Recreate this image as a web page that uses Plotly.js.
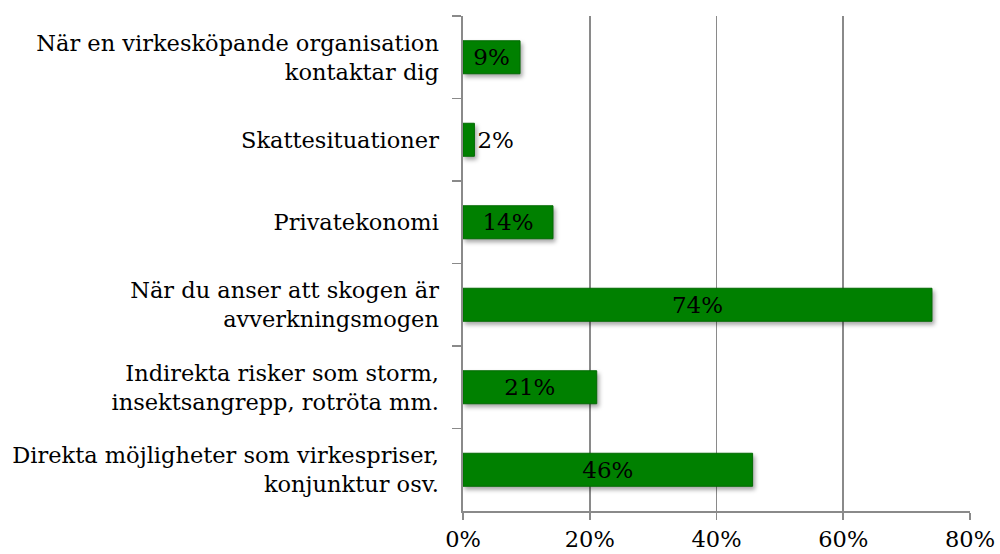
<!DOCTYPE html>
<html>
<head>
<meta charset="utf-8">
<script src="https://cdn.plot.ly/plotly-3.0.1.min.js"></script>
<style>
html,body{margin:0;padding:0;background:#fff;}
#chart{width:1000px;height:554px;}
#chart .bars .point path{filter:drop-shadow(2px 3px 2px rgba(0,0,0,0.35));}
</style>
</head>
<body>
<div id="chart"></div>
<script>
// Categories, top to bottom as shown
var categories = [
  "När en virkesköpande organisation<br>kontaktar dig",
  "Skattesituationer",
  "Privatekonomi",
  "När du anser att skogen är<br>avverkningsmogen",
  "Indirekta risker som storm,<br>insektsangrepp, rotröta mm.",
  "Direkta möjligheter som virkespriser,<br>konjunktur osv."
];
var values = [9, 1.8, 14.2, 74, 21.1, 45.7];
var valueLabels = ["9%", "2%", "14%", "74%", "21%", "46%"];
var tickVals = [0, 20, 40, 60, 80];
var tickText = ["0%", "20%", "40%", "60%", "80%"];

var serif = "DejaVu Serif, serif";

var trace = {
  type: "bar",
  orientation: "h",
  y: categories,
  x: values,
  text: valueLabels,
  textposition: ["inside", "outside", "inside", "inside", "inside", "inside"],
  insidetextanchor: "middle",
  constraintext: "none",
  cliponaxis: false,
  textfont: {family: serif, size: 23, color: "#000"},
  marker: {color: "#008000", line: {color: "#006a00", width: 1}},
  hoverinfo: "none"
};

var layout = {
  width: 1000,
  height: 554,
  margin: {l: 463, r: 30, t: 16, b: 43},
  paper_bgcolor: "#fff",
  plot_bgcolor: "#fff",
  showlegend: false,
  bargap: 0.6,
  xaxis: {
    range: [0, 80],
    tickvals: tickVals,
    ticktext: tickText,
    showgrid: true,
    gridcolor: "#8a8a8a",
    gridwidth: 1.6,
    zeroline: false,
    showline: true,
    linecolor: "#8a8a8a",
    linewidth: 1.6,
    ticks: "outside",
    ticklen: 7,
    tickcolor: "#8a8a8a",
    tickwidth: 1.6,
    tickfont: {family: serif, size: 22.5, color: "#000"},
    fixedrange: true
  },
  yaxis: {
    type: "category",
    autorange: "reversed",
    showgrid: false,
    showline: true,
    linecolor: "#8a8a8a",
    linewidth: 1.6,
    ticks: "outside",
    tickson: "boundaries",
    ticklen: 9,
    tickcolor: "#8a8a8a",
    tickwidth: 1.6,
    ticklabelstandoff: 18,
    tickfont: {family: serif, size: 22.5, color: "#000"},
    fixedrange: true
  }
};

Plotly.newPlot("chart", [trace], layout, {displayModeBar: false, staticPlot: true});
</script>
</body>
</html>
